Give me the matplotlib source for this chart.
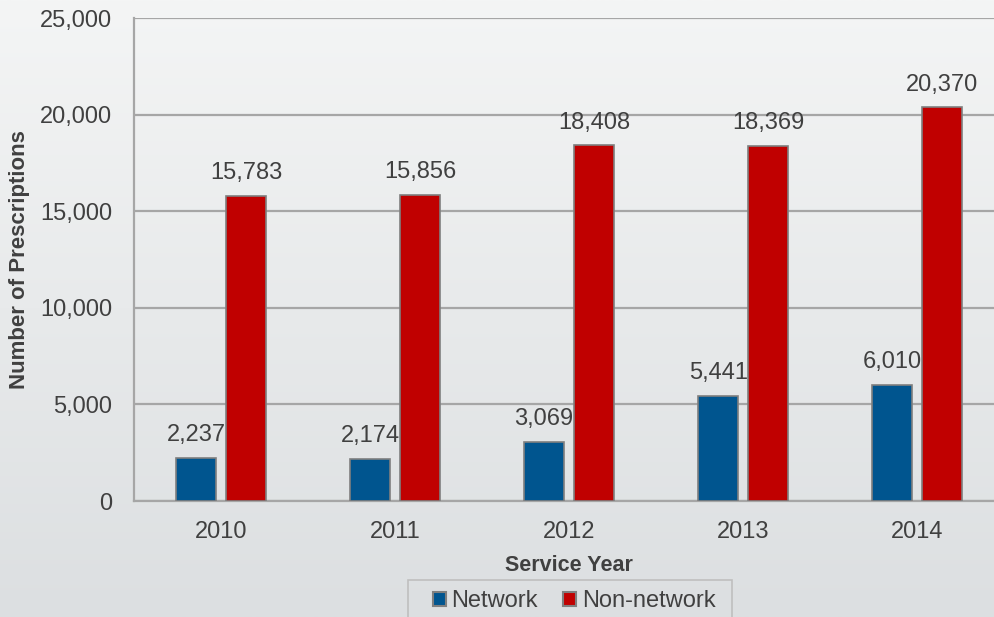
import numpy as np
import matplotlib
matplotlib.use('Agg')
import matplotlib.pyplot as plt
from matplotlib.ticker import FuncFormatter
from matplotlib.patches import Patch, Rectangle

plt.rcParams['font.family'] = ['Liberation Sans', 'DejaVu Sans']

years = ['2010', '2011', '2012', '2013', '2014']
network = [2237, 2174, 3069, 5441, 6010]
non_network = [15783, 15856, 18408, 18369, 20370]

blue = '#00558f'
red = '#c00000'
text_color = '#404040'
grid_color = '#a6a6a6'

W, H = 994, 617
fig = plt.figure(figsize=(W / 100, H / 100), dpi=100)

# soft vertical gradient behind everything
bg = fig.add_axes([0, 0, 1, 1], zorder=-10)
grad = np.linspace(0, 1, 256).reshape(-1, 1)
top_c = np.array([0xf4, 0xf5, 0xf5]) / 255
bot_c = np.array([0xdc, 0xdf, 0xe1]) / 255
img = top_c + (bot_c - top_c) * grad[:, :, None]
bg.imshow(img, aspect='auto', extent=[0, 1, 0, 1])
bg.axis('off')

ax = fig.add_axes([134 / W, 116 / H, 870 / W, 483 / H])
ax.set_facecolor('none')

x = np.arange(len(years))
w = 0.23
off = 0.143
b1 = ax.bar(x - off, network, w, color=blue, edgecolor='#7f7f7f', linewidth=1.2, zorder=3)
b2 = ax.bar(x + off, non_network, w, color=red, edgecolor='#7f7f7f', linewidth=1.2, zorder=3)

for bars, vals in ((b1, network), (b2, non_network)):
    for rect, v in zip(bars, vals):
        ax.annotate(f'{v:,}', (rect.get_x() + rect.get_width() / 2, v),
                    xytext=(0, 12), textcoords='offset points',
                    ha='center', va='baseline', fontsize=17, color=text_color, zorder=4)

ax.set_xlim(-0.5, 4.5)
ax.set_ylim(0, 25000)
ax.set_yticks(range(0, 25001, 5000))
ax.yaxis.set_major_formatter(FuncFormatter(lambda v, p: f'{int(v):,}'))
ax.set_xticks(x)
ax.set_xticklabels(years)
ax.tick_params(axis='both', length=0, labelsize=17, labelcolor=text_color)
ax.tick_params(axis='y', pad=15.8)
ax.tick_params(axis='x', pad=14.5)

ax.grid(axis='y', color=grid_color, linewidth=1.6, zorder=0)
ax.set_axisbelow(True)
for s in ('top', 'right'):
    ax.spines[s].set_visible(False)
for s in ('left', 'bottom'):
    ax.spines[s].set_color(grid_color)
    ax.spines[s].set_linewidth(1.6)

ax.set_ylabel('Number of Prescriptions', fontsize=16, fontweight='bold', color=text_color)
ax.yaxis.set_label_coords(-0.12, 0.5)
ax.set_xlabel('Service Year', fontsize=15.5, fontweight='bold', color=text_color)
ax.xaxis.set_label_coords(0.5, -0.111)

# legend box, drawn separately so it can be wider than the entries
fig.patches.append(Rectangle((408 / W, 1 - 630 / H), 324 / W, 50 / H,
                             transform=fig.transFigure, facecolor='none',
                             edgecolor='#bfbfbf', linewidth=1.2))

handles = [Patch(facecolor=blue, edgecolor='#7f7f7f', linewidth=1.5),
           Patch(facecolor=red, edgecolor='#7f7f7f', linewidth=1.5)]
leg = fig.legend(handles, ['Network', 'Non-network'], loc='upper center',
                 bbox_to_anchor=(574 / W, 1 - 590 / H), ncol=2, frameon=False,
                 fontsize=17, handlelength=0.55, handleheight=0.55,
                 handletextpad=0.25, columnspacing=1.06, borderpad=0, borderaxespad=0)
for t in leg.get_texts():
    t.set_color(text_color)

fig.savefig('out.png', dpi=100)
